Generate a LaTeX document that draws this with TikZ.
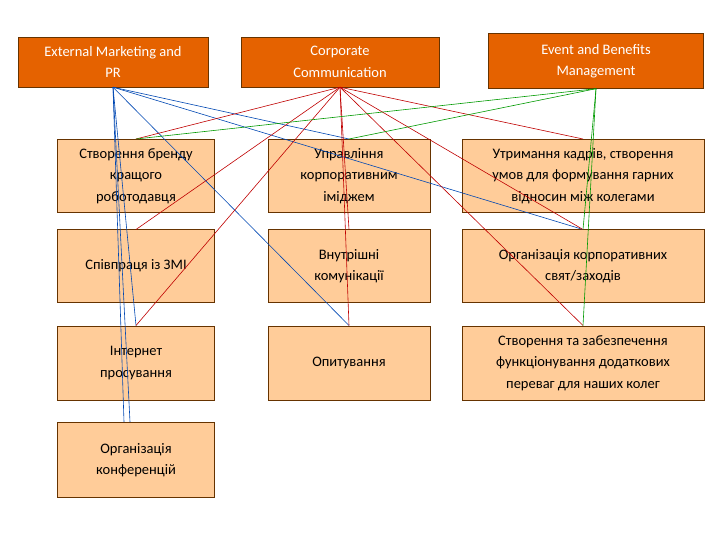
\documentclass[tikz,border=0pt]{standalone}
\usepackage{fontspec}
\setmainfont{Carlito}
\begin{document}
\begin{tikzpicture}[x=1pt,y=-1pt,
 head/.style={draw=black!60!orange,fill=orange!85!red!90!black,text=white,minimum width=#1,minimum height=50pt,align=center,inner sep=1pt,font=\fontsize{14.5}{21.5}\selectfont},
 sub/.style={draw=black!60!orange,line width=1pt,fill=orange!40!white,text=black,minimum width=#1,minimum height=73pt,align=center,inner sep=1pt,font=\fontsize{14.5}{21.5}\selectfont},
 bl/.style={draw=blue!60!cyan!70!black,line width=0.6pt},
 rd/.style={draw=red!75!black,line width=0.6pt},
 gr/.style={draw=green!60!black,line width=0.6pt}]
\useasboundingbox (0,0) rectangle (720,540);
\node[head=190pt] (em) at (113,62) {External Marketing and\\PR};
\node[head=198pt] (cc) at (340,62) {Corporate\\Communication};
\node[head=215pt,minimum height=55pt] (eb) at (596,61) {Event and Benefits\\Management};
\node[sub=157pt] (a1) at (136,176) {Створення бренду\\кращого\\роботодавця};
\node[sub=162pt] (b1) at (349,176) {Управління\\корпоративним\\іміджем};
\node[sub=242pt] (c1) at (583,176) {Утримання кадрів, створення\\умов для формування гарних\\відносин між колегами};
\node[sub=157pt,minimum height=72pt] (a2) at (136,266) {Співпраця із ЗМІ};
\node[sub=162pt,minimum height=72pt] (b2) at (349,266) {Внутрішні\\комунікації};
\node[sub=242pt,minimum height=72pt] (c2) at (583,266) {Організація корпоративних\\свят/заходів};
\node[sub=157pt,minimum height=74pt] (a3) at (136,363) {Інтернет\\просування};
\node[sub=162pt,minimum height=74pt] (b3) at (349,363) {Опитування};
\node[sub=242pt,minimum height=74pt] (c3) at (583,363) {Створення та забезпечення\\функціонування додаткових\\переваг для наших колег};
\node[sub=157pt,minimum height=75pt] (a4) at (136,460) {Організація\\конференцій};
\begin{scope}
\draw[bl] (em.south) -- (a3.north);
\draw[bl] (em.south) -- ([xshift=-6pt]a4.north);
\draw[bl] (em.south) -- ([xshift=-12pt]a4.north);
\draw[bl] (em.south) -- (b1.north);
\draw[bl] (em.south) -- (c2.north);
\draw[bl] (em.south) -- (b3.north);
\draw[rd] (cc.south) -- (a1.north);
\draw[rd] (cc.south) -- (a2.north);
\draw[rd] (cc.south) -- (a3.north);
\draw[rd] (cc.south) -- (b2.north);
\draw[rd] (cc.south) -- (b3.north);
\draw[rd] (cc.south) -- (c1.north);
\draw[rd] (cc.south) -- (c2.north);
\draw[rd] (cc.south) -- (c3.north);
\draw[gr] (eb.south) -- (a1.north);
\draw[gr] (eb.south) -- (b1.north);
\draw[gr] (eb.south) -- (c2.north);
\draw[gr] (eb.south) -- (c3.north);
\end{scope}
\end{tikzpicture}
\end{document}
